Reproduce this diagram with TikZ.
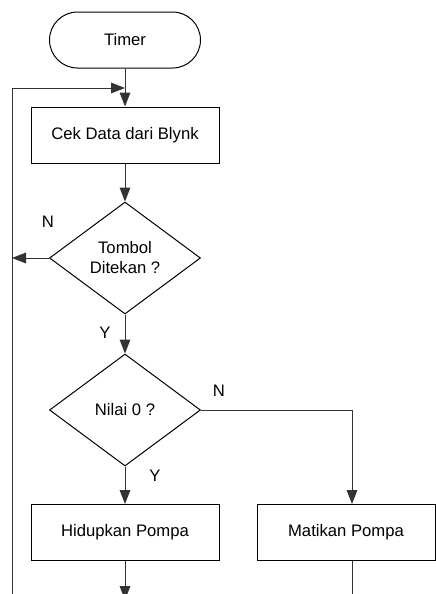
\documentclass[tikz,border=0pt]{standalone}
\usepackage{fontspec}
\setmainfont{Liberation Sans}
\usetikzlibrary{shapes.geometric,arrows.meta}
\begin{document}
\begin{tikzpicture}[x=0.75pt,y=-0.75pt,
  every node/.style={font=\fontsize{12.5}{15}\selectfont},
  conn/.style={draw=black!80, line width=0.75pt},
  arrowc/.style={conn, -{Triangle[length=10.5pt,width=8pt]}},
  term/.style={draw=black, line width=0.75pt, fill=white, rectangle, rounded corners=21pt, minimum width=113.25pt, minimum height=42pt, inner sep=0pt},
  proc/.style={draw=black, line width=0.75pt, fill=white, rectangle, minimum width=141pt, minimum height=42pt, inner sep=0pt},
  dec/.style={draw=black, line width=0.75pt, fill=white, diamond, shape aspect=1.35, minimum width=113.25pt, minimum height=84pt, inner sep=0pt, align=center},
  lbl/.style={inner sep=0pt}
]
\useasboundingbox (0,0) rectangle (436,594);
\fill[white] (0,0) rectangle (436,594);

\node[term] (timer) at (125,40) {Timer};
\node[proc] (cek) at (125,135) {Cek Data dari Blynk};
\node[dec] (d1) at (125,258) {Tombol\\Ditekan ?};
\node[dec] (d2) at (125,410) {Nilai 0 ?};
\node[proc] (hid) at (125,532.5) {Hidupkan Pompa};
\node[proc, minimum width=133.5pt] (mat) at (346,532.5) {Matikan Pompa};

\node[lbl] (n1) at (48,222) {N};
\node[lbl] (y1) at (105,333) {Y};
\node[lbl] (n2) at (219,391) {N};
\node[lbl] (y2) at (155,476) {Y};

\coordinate (join) at (125,88);
\coordinate (leftin) at (12,258);
\coordinate (loopbot) at (12,600);
\coordinate (corner) at (352,410);
\coordinate (hidout) at (125,600);
\coordinate (matout) at (352,600);

\draw[arrowc] (timer.south) -- (cek.north);
\draw[arrowc] (loopbot) |- (join);
\draw[arrowc] (cek.south) -- (d1.north);
\draw[arrowc] (d1.west) -- (leftin);
\draw[arrowc] (d1.south) -- (d2.north);
\draw[arrowc] (d2.east) -- (corner) -- (corner |- mat.north);
\draw[arrowc] (d2.south) -- (hid.north);
\draw[arrowc] (hid.south) -- (hidout);
\draw[conn] (mat.south -| corner) -- (matout);
\end{tikzpicture}
\end{document}
